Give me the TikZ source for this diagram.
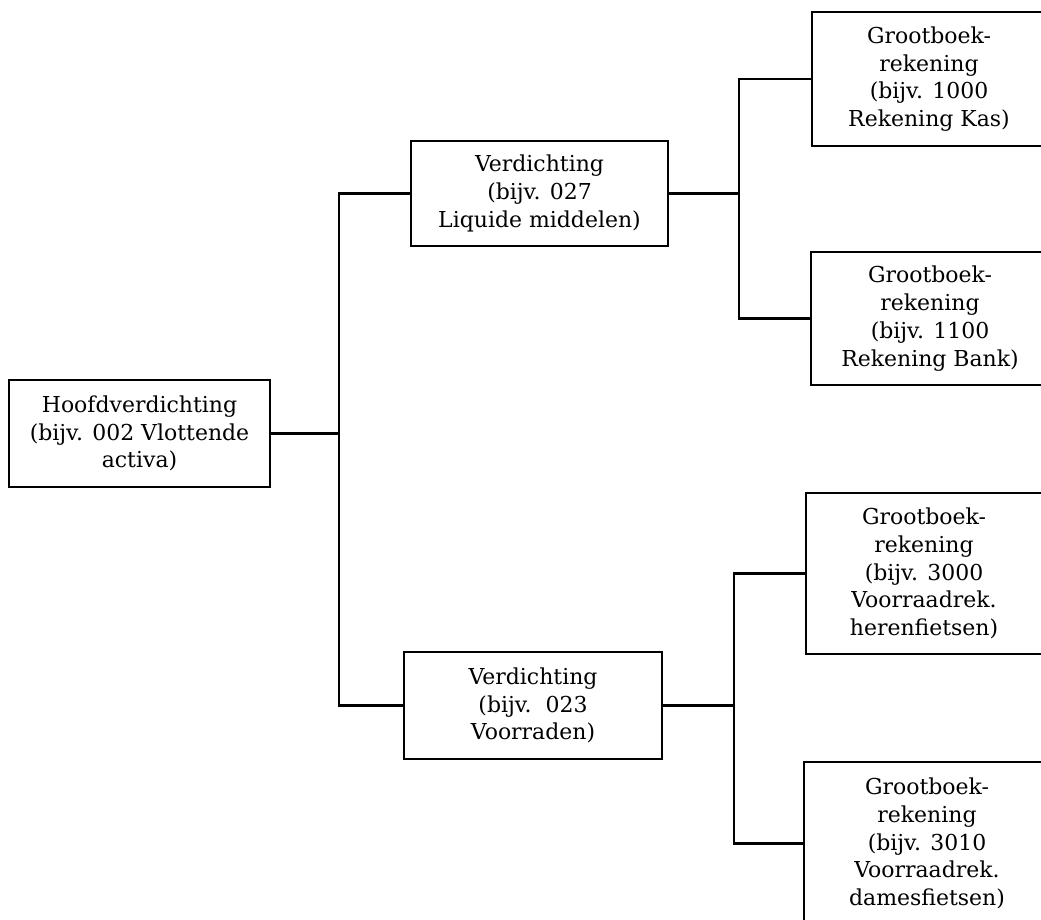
\documentclass[tikz,border=0pt]{standalone}
\usepackage{fontspec}
\setmainfont{DejaVu Serif}
\usepackage{tikz}
\usetikzlibrary{positioning,calc}

\begin{document}
\begin{tikzpicture}[
    blok/.style={draw, line width=1.4pt, align=center, inner sep=2pt,
        font=\fontsize{12.5}{15.8}\selectfont},
    lijn/.style={line width=1.4pt}]
% Page frame
\useasboundingbox (0,0) rectangle (20.82,-18.38);
\clip (0,0) rectangle (20.82,-18.38);

% Main level
\node[blok, minimum width=5.22cm, minimum height=2.14cm] (hoofd) at (2.79,-8.67)
    {Hoofdverdichting\\(bijv. 002 Vlottende\\activa)};

% Second level
\node[blok, minimum width=5.14cm, minimum height=2.10cm] (verd1) at (10.79,-3.87)
    {Verdichting\\(bijv. 027\\Liquide middelen)};
\node[blok, minimum width=5.16cm, minimum height=2.14cm] (verd2) at (10.66,-14.11)
    {Verdichting\\(bijv.\ \ 023\\Voorraden)};

% Ledger accounts
\node[blok, minimum width=4.68cm, minimum height=2.68cm] (gb1) at (18.58,-1.58)
    {Grootboek-\\rekening\\(bijv. 1000\\Rekening Kas)};
\node[blok, minimum width=4.76cm, minimum height=2.66cm] (gb2) at (18.60,-6.37)
    {Grootboek-\\rekening\\(bijv. 1100\\Rekening Bank)};
\node[blok, minimum width=4.72cm, minimum height=3.22cm] (gb3) at (18.48,-11.47)
    {Grootboek-\\rekening\\(bijv. 3000\\Voorraadrek.\\herenfietsen)};
\node[blok, minimum width=4.92cm, minimum height=3.26cm] (gb4) at (18.54,-16.87)
    {Grootboek-\\rekening\\(bijv. 3010\\Voorraadrek.\\damesfietsen)};

% Bus lines
\coordinate (bus1) at (6.78,0);
\coordinate (bus2) at (14.78,0);
\coordinate (bus3) at (14.68,0);

% Connectors
\draw[lijn] (hoofd.east) -- (hoofd.east -| bus1);
\draw[lijn] (verd1.west) -- (verd1.west -| bus1) -- (verd2.west -| bus1) -- (verd2.west);
\draw[lijn] (verd1.east) -- (verd1.east -| bus2);
\draw[lijn] (gb1.west) -- (gb1.west -| bus2) -- (gb2.west -| bus2) -- (gb2.west);
\draw[lijn] (verd2.east) -- (verd2.east -| bus3);
\draw[lijn] (gb3.west) -- (gb3.west -| bus3) -- (gb4.west -| bus3) -- (gb4.west);
\end{tikzpicture}
\end{document}
